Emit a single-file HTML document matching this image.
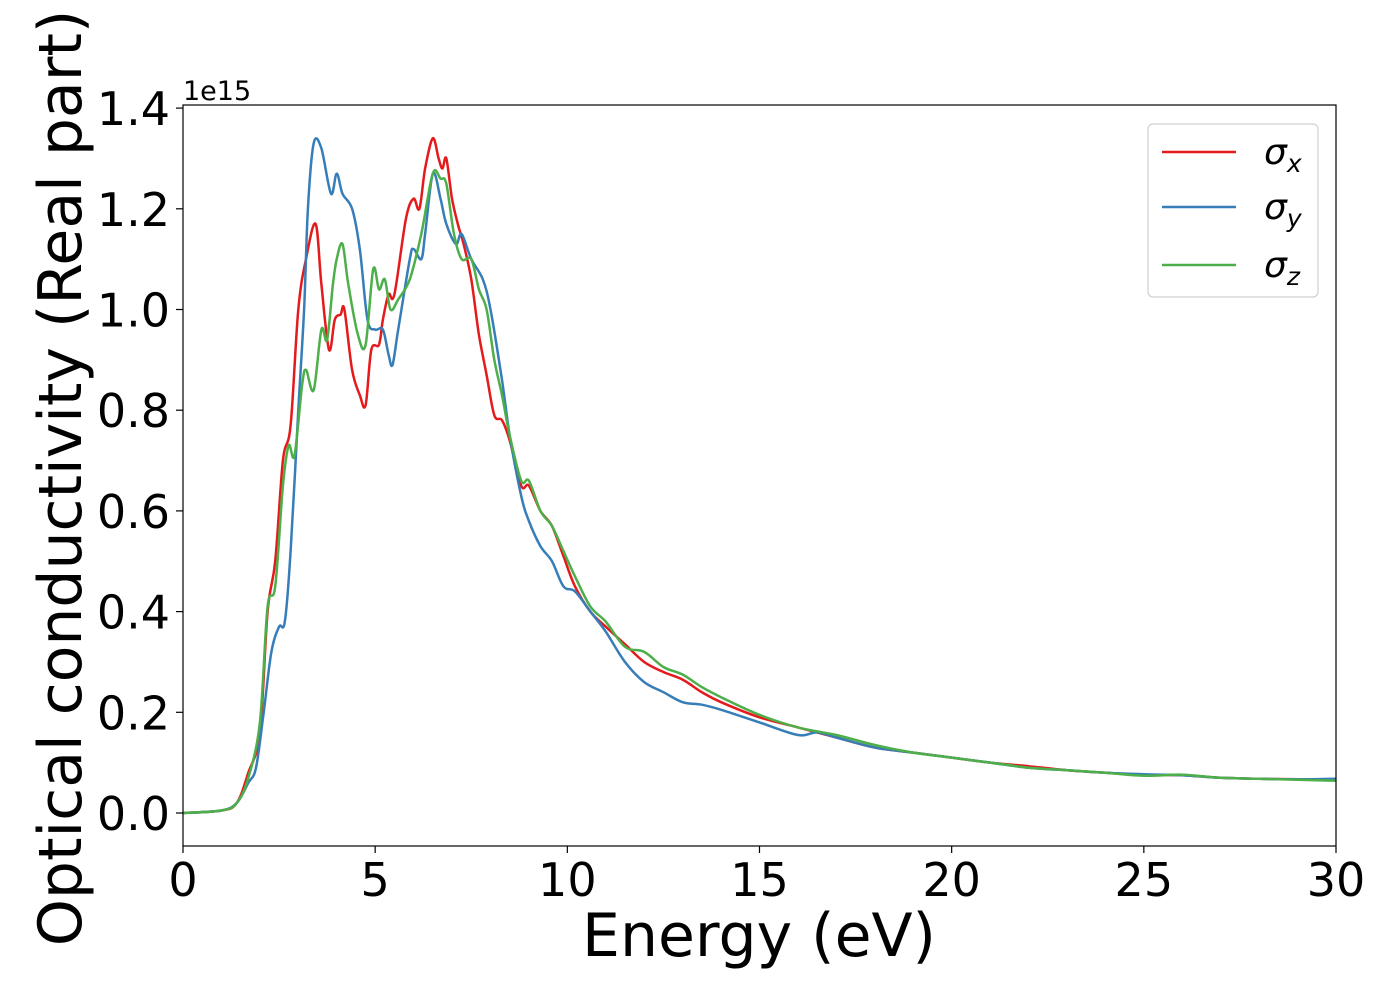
<!DOCTYPE html>
<html><head><meta charset="utf-8"><style>
html,body{margin:0;padding:0;background:#fff;}
svg{display:block;font-family:"DejaVu Sans","Liberation Sans",sans-serif;}
</style></head><body>
<svg id="chart" width="1400" height="1000" viewBox="0 0 1400 1000" xmlns="http://www.w3.org/2000/svg">
<rect x="0" y="0" width="1400" height="1000" fill="#fff"/>
<g id="series"></g>
<rect x="183" y="105" width="1153" height="741" fill="none" stroke="#000" stroke-width="1.2"/>
<g id="xticks"></g>
<g id="yticks"></g>
<text x="183" y="100" font-size="27">1e15</text>
<text x="759" y="956" font-size="60" text-anchor="middle">Energy (eV)</text>
<text transform="translate(81,478) rotate(-90)" font-size="60" text-anchor="middle">Optical conductivity (Real part)</text>
<g>
<rect x="1148" y="124" width="170" height="173" rx="5" fill="#fff" stroke="#ccc" stroke-width="1.2" opacity="0.9"/>
<g><line x1="1162" y1="152" x2="1236" y2="152" stroke="#e41a1c" stroke-width="2.5"/><text x="1264" y="164" font-size="36" font-style="italic">σ<tspan font-size="25" dy="8">x</tspan></text></g>
<g><line x1="1162" y1="207" x2="1236" y2="207" stroke="#377eb8" stroke-width="2.5"/><text x="1264" y="219" font-size="36" font-style="italic">σ<tspan font-size="25" dy="8">y</tspan></text></g>
<g><line x1="1162" y1="265" x2="1236" y2="265" stroke="#4daf4a" stroke-width="2.5"/><text x="1264" y="277" font-size="36" font-style="italic">σ<tspan font-size="25" dy="8">z</tspan></text></g>
</g>
</svg>
<script>
const xTicks=[0,5,10,15,20,25,30];
const yTicks=[0,0.2,0.4,0.6,0.8,1.0,1.2,1.4];
const yTickLabels=["0.0","0.2","0.4","0.6","0.8","1.0","1.2","1.4"];
const xE=[0,1,1.4,1.7,2.0,2.2,2.4,2.6,2.8,3.0,3.2,3.45,3.6,3.8,3.95,4.1,4.2,4.4,4.6,4.75,4.9,5.1,5.2,5.35,5.5,5.8,6.0,6.15,6.3,6.5,6.65,6.75,6.85,7.0,7.15,7.3,7.5,7.7,7.9,8.1,8.3,8.5,8.8,9.0,9.3,9.6,9.9,10.2,10.6,11,11.5,12,12.5,13,13.5,14,15,16,17,18,19,20,21,22,23,24,25,26,27,28,29,30];
const xV=[0,0.005,0.02,0.08,0.16,0.4,0.5,0.7,0.77,1.0,1.1,1.17,1.05,0.92,0.98,0.99,1.0,0.88,0.83,0.81,0.92,0.93,0.98,1.03,1.03,1.18,1.22,1.2,1.28,1.34,1.3,1.28,1.3,1.22,1.17,1.13,1.06,0.95,0.87,0.79,0.78,0.74,0.65,0.65,0.6,0.57,0.51,0.45,0.4,0.37,0.335,0.3,0.28,0.265,0.24,0.22,0.19,0.17,0.15,0.13,0.12,0.11,0.1,0.093,0.085,0.08,0.076,0.075,0.07,0.068,0.067,0.066];
const yE=[0,1,1.4,1.7,1.9,2.1,2.3,2.5,2.65,2.8,3.0,3.15,3.25,3.4,3.6,3.85,4.0,4.15,4.4,4.6,4.8,5.0,5.2,5.35,5.45,5.6,5.9,6.0,6.2,6.3,6.5,6.7,6.85,7.1,7.25,7.5,7.8,8.0,8.3,8.5,8.8,9.0,9.3,9.6,9.9,10.2,10.6,11,11.5,12,12.5,13,13.5,14,15,16,16.5,17,18,19,20,21,22,23,24,25,26,27,28,29,30];
const yV=[0,0.005,0.02,0.06,0.09,0.2,0.32,0.37,0.38,0.52,0.8,1.0,1.2,1.33,1.32,1.23,1.27,1.23,1.2,1.12,0.98,0.96,0.96,0.91,0.89,0.96,1.1,1.12,1.1,1.15,1.27,1.22,1.17,1.13,1.15,1.1,1.06,1.0,0.86,0.75,0.63,0.58,0.53,0.5,0.45,0.44,0.4,0.36,0.3,0.26,0.24,0.22,0.215,0.205,0.18,0.155,0.16,0.15,0.13,0.12,0.11,0.1,0.09,0.085,0.08,0.077,0.075,0.07,0.068,0.067,0.068];
const zE=[0,1,1.4,1.7,2.0,2.2,2.4,2.6,2.75,2.9,3.1,3.2,3.4,3.6,3.75,3.9,4.0,4.15,4.3,4.55,4.75,4.95,5.1,5.25,5.4,5.6,5.9,6.2,6.5,6.7,6.85,7.05,7.25,7.5,7.7,7.9,8.1,8.3,8.5,8.8,9.0,9.3,9.6,9.9,10.2,10.6,11,11.5,12,12.5,13,13.5,14,15,16,17,18,19,20,21,22,23,24,25,26,27,28,29,30];
const zV=[0,0.005,0.02,0.07,0.18,0.41,0.45,0.65,0.73,0.71,0.85,0.88,0.84,0.96,0.94,1.05,1.1,1.13,1.05,0.95,0.93,1.08,1.04,1.06,1.0,1.02,1.06,1.15,1.27,1.26,1.25,1.15,1.1,1.1,1.04,1.0,0.9,0.83,0.75,0.66,0.66,0.6,0.57,0.52,0.47,0.41,0.38,0.33,0.32,0.29,0.275,0.25,0.23,0.195,0.17,0.155,0.135,0.12,0.11,0.1,0.09,0.085,0.08,0.074,0.076,0.07,0.068,0.066,0.064];

const NS="http://www.w3.org/2000/svg";
function sx(e){return 183+e*(1153/30);}
function sy(v){return 813-v*503.5;}
function pathFor(E,V){
  const p=E.map((e,i)=>[sx(e),sy(V[i])]);
  let d="M"+p[0][0].toFixed(1)+","+p[0][1].toFixed(1);
  for(let i=0;i<p.length-1;i++){
    const p0=p[Math.max(0,i-1)],p1=p[i],p2=p[i+1],p3=p[Math.min(p.length-1,i+2)];
    const c1x=p1[0]+(p2[0]-p0[0])/6,c1y=p1[1]+(p2[1]-p0[1])/6;
    const c2x=p2[0]-(p3[0]-p1[0])/6,c2y=p2[1]-(p3[1]-p1[1])/6;
    d+=" C"+c1x.toFixed(1)+","+c1y.toFixed(1)+" "+c2x.toFixed(1)+","+c2y.toFixed(1)+" "+p2[0].toFixed(1)+","+p2[1].toFixed(1);
  }
  return d;
}
const g=document.getElementById("series");
[[xE,xV,"#e41a1c","line-sigma-x"],[yE,yV,"#377eb8","line-sigma-y"],[zE,zV,"#4daf4a","line-sigma-z"]].forEach(s=>{
  const el=document.createElementNS(NS,"path");
  el.setAttribute("d",pathFor(s[0],s[1]));
  el.setAttribute("fill","none");
  el.setAttribute("stroke",s[2]);
  el.setAttribute("stroke-width","2.5");
  
  
  g.appendChild(el);
});
const gx=document.getElementById("xticks");
xTicks.forEach(t=>{
  const l=document.createElementNS(NS,"line");
  l.setAttribute("x1",sx(t));l.setAttribute("x2",sx(t));l.setAttribute("y1",846);l.setAttribute("y2",853);
  l.setAttribute("stroke","#000");l.setAttribute("stroke-width","1.2");
  
  
  gx.appendChild(l);
  const tx=document.createElementNS(NS,"text");
  tx.setAttribute("x",sx(t));tx.setAttribute("y",896);tx.setAttribute("font-size","46");tx.setAttribute("text-anchor","middle");
  tx.textContent=String(t);
  
  
  gx.appendChild(tx);
});
const gy=document.getElementById("yticks");
yTicks.forEach((t,i)=>{
  const l=document.createElementNS(NS,"line");
  l.setAttribute("x1",176);l.setAttribute("x2",183);l.setAttribute("y1",sy(t));l.setAttribute("y2",sy(t));
  l.setAttribute("stroke","#000");l.setAttribute("stroke-width","1.2");
  
  
  gy.appendChild(l);
  const tx=document.createElementNS(NS,"text");
  tx.setAttribute("x",170);tx.setAttribute("y",sy(t)+17);tx.setAttribute("font-size","46");tx.setAttribute("text-anchor","end");
  tx.textContent=yTickLabels[i];
  
  
  gy.appendChild(tx);
});
</script>
</body></html>
